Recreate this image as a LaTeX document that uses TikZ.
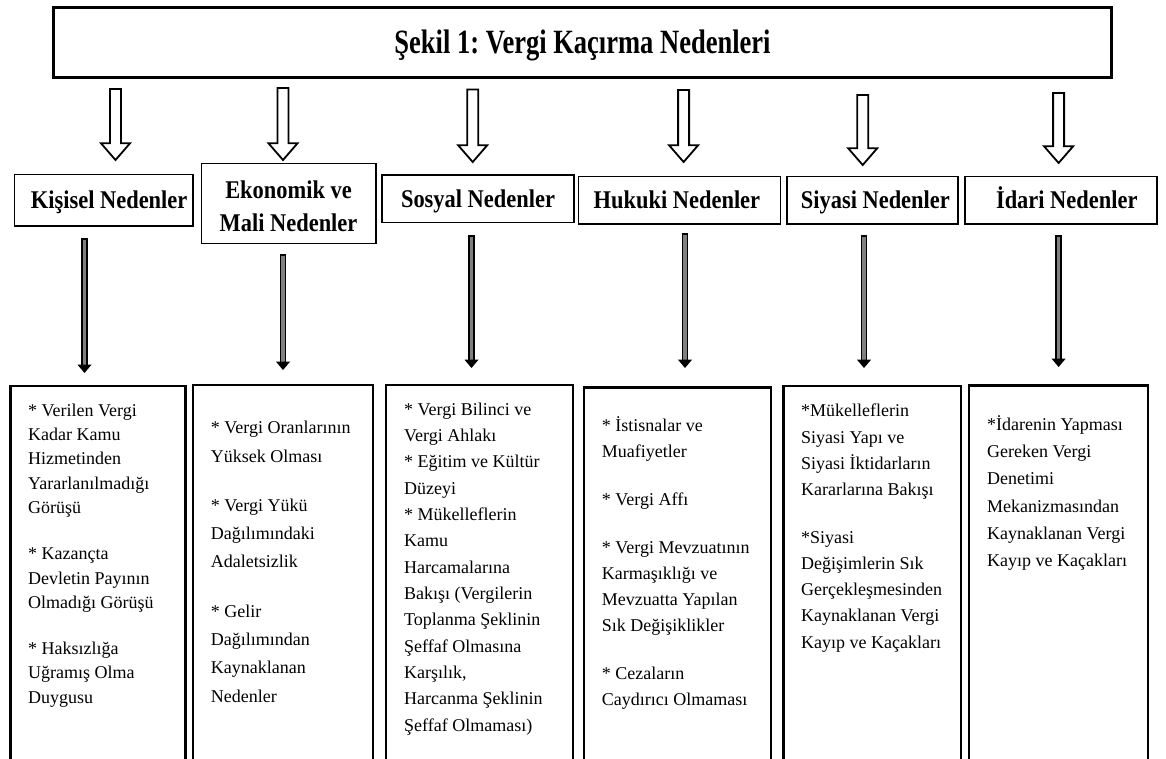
\documentclass[tikz,border=0pt]{standalone}
\usepackage{fontspec}
\setmainfont{Liberation Serif}
\newfontfamily\titlefont[FakeStretch=0.78]{Liberation Serif}
\newfontfamily\headfont[FakeStretch=0.88]{Liberation Serif}
\frenchspacing
\begin{document}
\begin{tikzpicture}[x=1pt,y=-1pt,
  titlebox/.style={draw, line width=3pt, inner sep=0pt, minimum width=1058pt, minimum height=69.5pt,
    font=\titlefont\bfseries\fontsize{34pt}{40pt}\selectfont, text height=22.7pt, text depth=0pt},
  hbox/.style={draw, line width=1.6pt, inner sep=0pt, align=center,
    font=\headfont\bfseries\fontsize{25.5pt}{32.6pt}\selectfont},
  honeline/.style={text height=17pt, text depth=0pt},
  cbox/.style={draw, line width=2.5pt, inner sep=0pt, anchor=north, minimum height=420pt},
  ctext/.style={anchor=north west, inner sep=0pt, align=left},
  hollow/.style={draw, line width=1.8pt, fill=white, line join=miter},
  shaftout/.style={line width=6.5pt, black},
  shaftin/.style={line width=3.2pt, gray},
]
\clip (0,0) rectangle (1166,758);
\fill[white] (0,0) rectangle (1166,758);

% title
\node[titlebox] (title) at (582.5,42.25) {Şekil 1: Vergi Kaçırma Nedenleri};

% hollow arrows from title to headers
\foreach \c/\t/\p in {115.5/89/160, 283/88/160, 472.7/89.5/162, 683.6/90/162, 862.7/95/165, 1058.6/93/163}{
  \draw[hollow] ({\c-5.5},\t) -- ({\c+5.5},\t) -- ({\c+5.5},{\p-16.7}) -- ({\c+14.5},{\p-16.7})
    -- (\c,\p) -- ({\c-14.5},{\p-16.7}) -- ({\c-5.5},{\p-16.7}) -- cycle;
}

% header boxes
\node[hbox, honeline, minimum width=178.5pt, minimum height=51.4pt] (h1) at (103.65,200) {\hspace*{11pt}Kişisel Nedenler};
\node[hbox, minimum width=174.5pt, minimum height=80pt] (h2) at (288.55,203.3) {\rule{0pt}{23.4pt}Ekonomik ve\\Mali Nedenler};
\node[hbox, honeline, minimum width=192pt, minimum height=47.6pt] (h3) at (478,198.5) {Sosyal Nedenler};
\node[hbox, honeline, minimum width=201.7pt, minimum height=47.7pt] (h4) at (679.45,200.15) {Hukuki Nedenler\hspace*{5pt}};
\node[hbox, honeline, minimum width=170.9pt, minimum height=47.7pt] (h5) at (872.35,200.15) {\hspace*{6pt}Siyasi Nedenler};
\node[hbox, honeline, minimum width=192.1pt, minimum height=47.7pt] (h6) at (1060.75,200.15) {\hspace*{12pt}İdari Nedenler};

% content boxes
\node[cbox, minimum width=175pt] (b1) at (98,384.5) {};
\node[cbox, minimum width=180pt] (b2) at (283,383.5) {};
\node[cbox, minimum width=187pt] (b3) at (479.7,383.5) {};
\node[cbox, minimum width=187.2pt] (b4) at (677.6,386.2) {};
\node[cbox, minimum width=177.7pt] (b5) at (872.35,384.5) {};
\node[cbox, minimum width=178.6pt] (b6) at (1058.5,384) {};

% thin arrows from headers to boxes
\foreach \c/\t/\p in {84.5/238/373, 283/254/370, 471.5/235/368, 685/233/368, 864/235/368, 1058.6/235/367}{
  \draw[shaftout] (\c,\t) -- (\c,{\p-8});
  \draw[shaftin] (\c,{\t+1.7}) -- (\c,{\p-8});
  \fill ({\c-7},{\p-8.3}) -- ({\c+7},{\p-8.3}) -- (\c,\p) -- cycle;
}

% texts
\node[ctext, font=\fontsize{18pt}{24.4pt}\selectfont] (t1) at (28,398.9) {\strut* Verilen Vergi\\Kadar Kamu\\Hizmetinden\\Yararlanılmadığı\\Görüşü\\[21.5pt]{}* Kazançta\\Devletin Payının\\Olmadığı Görüşü\\[21.5pt]{}* Haksızlığa\\Uğramış Olma\\Duygusu};

\node[ctext, font=\fontsize{18pt}{28.3pt}\selectfont] (t2) at (210.7,413.7) {\strut* Vergi Oranlarının\\Yüksek Olması\\[21pt]{}* Vergi Yükü\\Dağılımındaki\\Adaletsizlik\\[21pt]{}* Gelir\\Dağılımından\\Kaynaklanan\\Nedenler};

\node[ctext, font=\fontsize{18pt}{26.33pt}\selectfont] (t3) at (404,396.6) {\strut* Vergi Bilinci ve\\Vergi Ahlakı\\{}* Eğitim ve Kültür\\Düzeyi\\{}* Mükelleflerin\\Kamu\\Harcamalarına\\Bakışı (Vergilerin\\Toplanma Şeklinin\\Şeffaf Olmasına\\Karşılık,\\Harcanma Şeklinin\\Şeffaf Olmaması)};

\node[ctext, font=\fontsize{18pt}{26.2pt}\selectfont] (t4) at (601.7,412.5) {\strut* İstisnalar ve\\Muafiyetler\\[21.7pt]{}* Vergi Affı\\[21.7pt]{}* Vergi Mevzuatının\\Karmaşıklığı ve\\Mevzuatta Yapılan\\Sık Değişiklikler\\[21.7pt]{}* Cezaların\\Caydırıcı Olmaması};

\node[ctext, font=\fontsize{18pt}{26.2pt}\selectfont] (t5) at (801,398.4) {\strut*Mükelleflerin\\Siyasi Yapı ve\\Siyasi İktidarların\\Kararlarına Bakışı\\[21.5pt]{}*Siyasi\\Değişimlerin Sık\\Gerçekleşmesinden\\Kaynaklanan Vergi\\Kayıp ve Kaçakları};

\node[ctext, font=\fontsize{18pt}{27.3pt}\selectfont] (t6) at (987,410.9) {\strut*İdarenin Yapması\\Gereken Vergi\\Denetimi\\Mekanizmasından\\Kaynaklanan Vergi\\Kayıp ve Kaçakları};
\end{tikzpicture}
\end{document}
